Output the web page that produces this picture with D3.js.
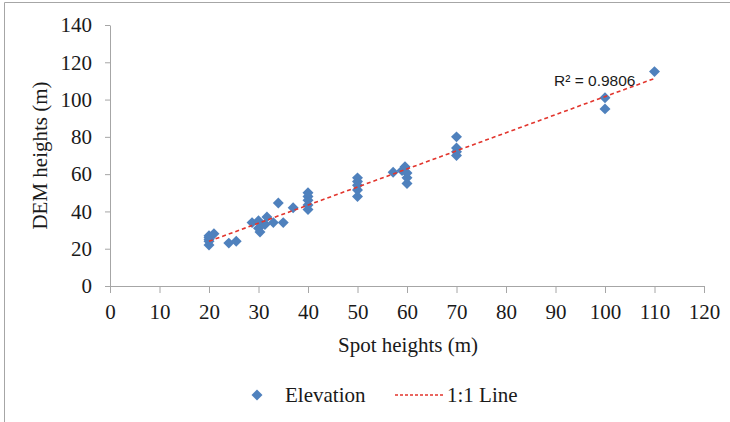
<!DOCTYPE html>
<html>
<head>
<meta charset="utf-8">
<script src="https://cdn.jsdelivr.net/npm/d3@7"></script>
<style>
  body { margin: 0; background: #fff; }
  svg text { fill: #1a1a1a; }
  .tick text { font-family: "Liberation Serif", "Times New Roman", serif; font-size: 21px; }
  .axis path, .axis line { stroke: #a6a6a6; }
</style>
</head>
<body>
<div id="chart"></div>
<script>
// Spot heights (x) vs DEM heights (y)
const spotHeights = [20, 20, 20, 20, 20, 21, 24, 25.5, 28.7, 30, 30, 30.3, 31.3, 31.7, 33, 34, 35, 37,
  40, 40, 40, 40, 40, 50, 50, 50, 50, 50, 57.2, 59, 59.6, 60, 60, 60, 70, 70, 70, 70, 100, 100, 110];
const demHeights = [22, 24, 25, 26, 27, 28, 23, 24, 34, 35, 31, 29, 33, 37, 34, 44.5, 34, 42,
  41, 43.5, 46, 48, 50, 48, 51.5, 54, 56, 58, 61, 62, 64, 55, 58, 60.6, 70, 72, 74, 80, 95, 101, 115];
const xTicks = d3.range(0, 121, 10);
const yTicks = d3.range(0, 141, 20);
// fitted trend line
const trendSlope = 0.97;
const trendIntercept = 4.6;
const trendRange = [20, 110];
const r2Label = "R² = 0.9806";

const W = 730, H = 422;
const margin = { left: 110, right: 26, top: 25, bottom: 136 };
const serif = '"Liberation Serif", "Times New Roman", serif';

const svg = d3.select('#chart').append('svg')
  .attr('width', W).attr('height', H);

// outer frame (only top and left edges show)
svg.append('path')
  .attr('d', `M4.5,${H} V2.5 H${W}`)
  .attr('fill', 'none')
  .attr('stroke', '#a6a6a6');

const x = d3.scaleLinear().domain([0, 120]).range([margin.left, W - margin.right]);
const y = d3.scaleLinear().domain([0, 140]).range([H - margin.bottom, margin.top]);

svg.append('g')
  .attr('class', 'axis')
  .attr('transform', `translate(0,${y(0)})`)
  .call(d3.axisBottom(x).tickValues(xTicks).tickSize(7).tickPadding(7).tickSizeOuter(0))
  .call(g => g.selectAll('.tick text').attr('dy', '0.9em'));

svg.append('g')
  .attr('class', 'axis')
  .attr('transform', `translate(${x(0)},0)`)
  .call(d3.axisLeft(y).tickValues(yTicks).tickSize(5).tickPadding(13).tickSizeOuter(0));

// axis titles
svg.append('text')
  .attr('x', 408)
  .attr('y', 352)
  .attr('text-anchor', 'middle')
  .style('font-family', serif)
  .style('font-size', '21px')
  .text('Spot heights (m)');

svg.append('text')
  .attr('transform', `translate(47,${(y(0) + y(140)) / 2}) rotate(-90)`)
  .attr('text-anchor', 'middle')
  .style('font-family', serif)
  .style('font-size', '21px')
  .text('DEM heights (m)');

// points
const diamond = d3.symbol().type(d3.symbolSquare).size(60);
svg.append('g').selectAll('path')
  .data(spotHeights.map((s, i) => [s, demHeights[i]]))
  .enter()
  .append('path')
  .attr('d', diamond)
  .attr('transform', d => `translate(${x(d[0])},${y(d[1])}) rotate(45)`)
  .attr('fill', '#4f81bd');

// trend line
const trend = trendRange.map(v => [v, trendSlope * v + trendIntercept]);
svg.append('path')
  .attr('d', d3.line().x(d => x(d[0])).y(d => y(d[1]))(trend))
  .attr('fill', 'none')
  .attr('stroke', '#e2352d')
  .attr('stroke-width', 1.6)
  .attr('stroke-dasharray', '4,3');

svg.append('text')
  .attr('x', 554)
  .attr('y', 86)
  .style('font-family', '"Liberation Sans", Arial, sans-serif')
  .style('font-size', '15.5px')
  .text(r2Label);

// legend
const legend = svg.append('g').attr('transform', 'translate(0,395)');
legend.append('path')
  .attr('d', diamond)
  .attr('transform', 'translate(257,0) rotate(45)')
  .attr('fill', '#4f81bd');
legend.append('text')
  .attr('x', 285).attr('y', 7)
  .style('font-family', serif)
  .style('font-size', '21px')
  .text('Elevation');
legend.append('line')
  .attr('x1', 395).attr('x2', 443)
  .attr('stroke', '#e2352d')
  .attr('stroke-width', 1.4)
  .attr('stroke-dasharray', '3,2');
legend.append('text')
  .attr('x', 447).attr('y', 7)
  .style('font-family', serif)
  .style('font-size', '21px')
  .text('1:1 Line');
</script>
</body>
</html>
